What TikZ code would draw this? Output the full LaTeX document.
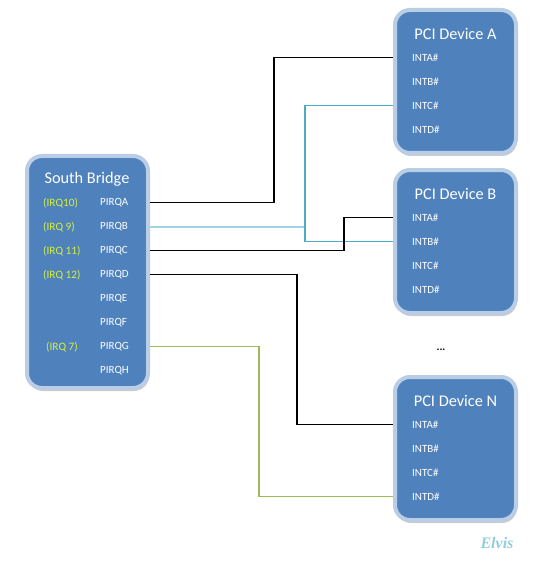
\documentclass[tikz,border=0pt]{standalone}
\usepackage{fontspec}
\setmainfont{Carlito}
\newfontfamily\signfont{Liberation Serif}
\usetikzlibrary{shadows}
\definecolor{boxfill}{RGB}{79,129,189}
\definecolor{boxrim}{RGB}{185,205,229}
\definecolor{irqgreen}{RGB}{214,240,60}
\definecolor{wireblue}{RGB}{160,210,225}
\definecolor{wireteal}{RGB}{75,172,198}
\definecolor{wiregreen}{RGB}{155,187,89}
\definecolor{signblue}{RGB}{147,205,221}
\begin{document}
\begin{tikzpicture}[x=1pt,y=-1pt,
    chip/.style={draw=boxrim, line width=4pt, fill=boxfill, rounded corners=15pt, minimum width=121pt,
        drop shadow={shadow xshift=1pt, shadow yshift=-3pt, opacity=0.4}},
    chiptitle/.style={text=white, font=\fontsize{16.3}{19}\selectfont},
    pin/.style={text=white, font=\fontsize{11}{13}\selectfont, anchor=west, inner sep=0pt},
    irq/.style={text=irqgreen, font=\fontsize{11.3}{13}\selectfont, anchor=west, inner sep=0pt},
    wire/.style={line width=1.2pt}]
                \useasboundingbox (0,0) rectangle (541,564);
                % south bridge
                \node[chip, minimum height=232pt] (sb) at (87.5,272) {};
                \node[chiptitle] (sbtitle) at (87,179) {South Bridge};
                \foreach \p [count=\i] in {A,...,H}
                    \node[pin] (pirq\p) at (100,{202.7+24*(\i-1)}) {PIRQ\p};
                \foreach \p/\t/\x in {A/(IRQ10)/43, B/(IRQ 9)/43, C/(IRQ 11)/43, D/(IRQ 12)/43, G/(IRQ 7)/46}
                    \node[irq] (irq\p) at (\x,0 |- pirq\p.west) {\t};
                % pci devices
                \foreach \d/\n/\yc in {A/devA/81.5, B/devB/241.5, N/devN/448.5} {
                    \node[chip, minimum height=143pt] (\n) at (455.5,\yc) {};
                    \node[chiptitle] (\n-title) at (455.5,{\yc-47.5}) {PCI Device \d};
                    \foreach \k [count=\j] in {A,B,C,D}
                        \node[pin] (\n-int\k) at (412,{\yc-48+24*\j}) {INT\k\#};
                }
                \node[font=\bfseries\fontsize{11}{13}\selectfont] (more) at (441,350) {...};
                % wires
                \draw[wire] (sb.east |- pirqA) -| (274,0 |- devA-intA) -- (devA.west |- devA-intA);
                \draw[wireblue, line width=2pt] (sb.east |- pirqB) -- (305,0 |- pirqB);
                \draw[wireteal, line width=1.1pt] (devA.west |- devA-intC) -| (305,0 |- devB-intB) -- (devB.west |- devB-intB);
                \draw[wire] (sb.east |- pirqC) -| (344,0 |- devB-intA) -- (devB.west |- devB-intA);
                \draw[wire] (sb.east |- pirqD) -| (297,0 |- devN-intA) -- (devN.west |- devN-intA);
                \draw[wire, wiregreen] (sb.east |- pirqG) -| (259,0 |- devN-intD) -- (devN.west |- devN-intD);
                \node[text=signblue, font=\signfont\bfseries\itshape\fontsize{16}{18}\selectfont] (sign) at (497,543) {Elvis};
            \end{tikzpicture}
\end{document}
